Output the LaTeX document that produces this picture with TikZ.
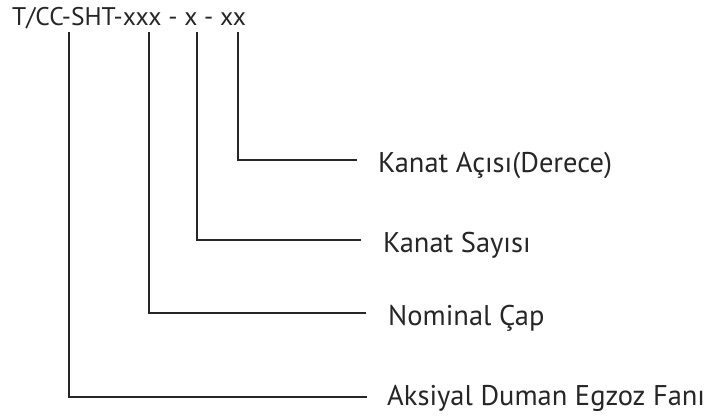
\documentclass[tikz,border=0pt]{standalone}
\usepackage{fontspec}
\setmainfont{PT Sans}
\tikzset{
  lead/.style={line width=1.3pt, draw=black!85},
  lbl/.style={anchor=base west, inner sep=0pt, font=\fontsize{28.5}{32}\selectfont, text=black!85}
}
\begin{document}
\begin{tikzpicture}[x=1pt,y=-1pt]
            \useasboundingbox (0,0) rectangle (706,417);
            \node[anchor=base west, inner sep=0pt, font=\fontsize{25.5}{30}\selectfont, text=black!85] (code) at (12,26) {T/CC-SHT-xxx - x - xx};
            \coordinate (fan) at (69,32);
            \coordinate (cap) at (149,32);
            \coordinate (say) at (197,32);
            \coordinate (aci) at (238,32);
            \coordinate (e1) at (357,160);
            \coordinate (e2) at (361,240);
            \coordinate (e3) at (366,313);
            \coordinate (e4) at (367,397);
            \node[lbl] (aciLbl) at (378,172) {Kanat Açısı(Derece)};
            \node[lbl] (sayLbl) at (383,252) {Kanat Sayısı};
            \node[lbl] (capLbl) at (388,325) {Nominal Çap};
            \node[lbl] (fanLbl) at (387,405) {Aksiyal Duman Egzoz Fanı};
            \draw[lead] (aci) |- (e1);
            \draw[lead] (say) |- (e2);
            \draw[lead] (cap) |- (e3);
            \draw[lead] (fan) |- (e4);

        \end{tikzpicture}
\end{document}
